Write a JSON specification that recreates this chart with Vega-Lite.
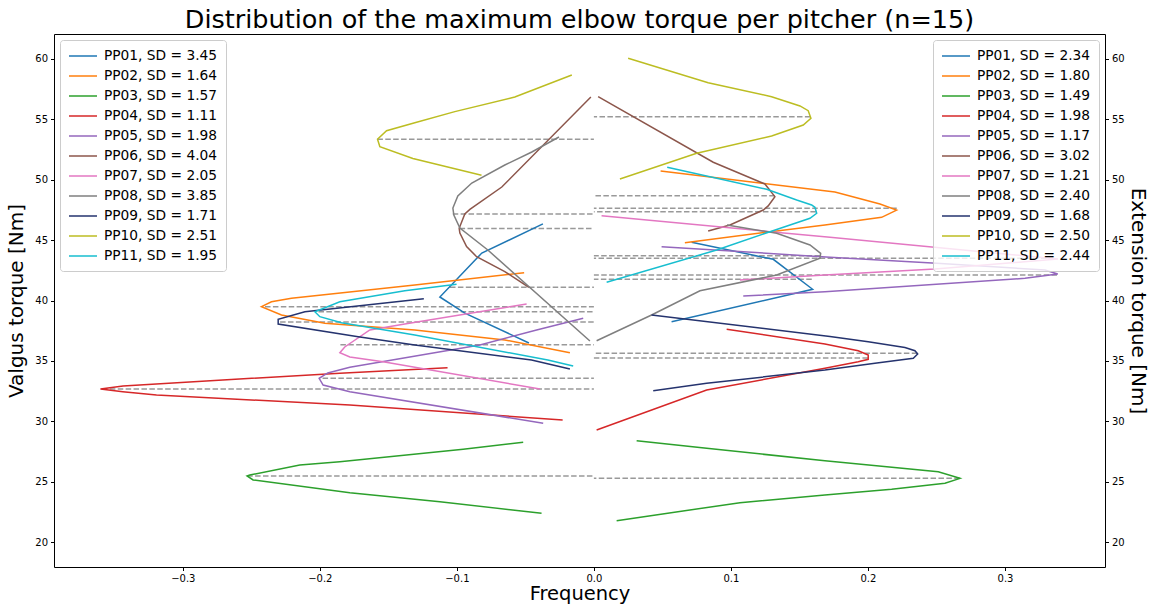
{
  "$schema": "https://vega.github.io/schema/vega-lite/v6.json",
  "autosize": "none",
  "padding": {"left": 54, "top": 34, "right": 49, "bottom": 40},
  "width": 1051,
  "height": 533,
  "background": "white",
  "title": {"text": "Distribution of the maximum elbow torque per pitcher (n=15)", "fontSize": 25.5, "fontWeight": "normal", "color": "black", "offset": 1},
  "config": {
    "font": "DejaVu Sans",
    "view": {"stroke": "black", "strokeWidth": 1},
    "axis": {"domain": false, "grid": false, "tickColor": "black", "tickSize": 3.5, "labelColor": "black", "labelFontSize": 10, "labelPadding": 3, "titleFontSize": 20, "titleFontWeight": "normal", "titleColor": "black"},
    "legend": {"fillColor": "rgba(255,255,255,0.8)", "strokeColor": "#cccccc", "cornerRadius": 3, "padding": 8, "labelFontSize": 13.75, "labelColor": "black", "symbolType": "M-1,0H3", "symbolSize": 196, "symbolStrokeWidth": 1.5, "labelOffset": 20, "rowPadding": 5, "labelLimit": 300, "offset": 6}
  },
  "datasets": {
    "curves": [
      {"side": "L", "label": "PP01, SD = 3.45", "x": -0.0372, "y": 46.34},
      {"side": "L", "label": "PP01, SD = 3.45", "x": -0.0818, "y": 43.93},
      {"side": "L", "label": "PP01, SD = 3.45", "x": -0.1124, "y": 40.29},
      {"side": "L", "label": "PP01, SD = 3.45", "x": -0.0942, "y": 38.96},
      {"side": "L", "label": "PP01, SD = 3.45", "x": -0.0474, "y": 36.48},
      {"side": "L", "label": "PP02, SD = 1.64", "x": -0.0509, "y": 42.30},
      {"side": "L", "label": "PP02, SD = 1.64", "x": -0.1307, "y": 41.29},
      {"side": "L", "label": "PP02, SD = 1.64", "x": -0.2207, "y": 40.18},
      {"side": "L", "label": "PP02, SD = 1.64", "x": -0.2353, "y": 39.90},
      {"side": "L", "label": "PP02, SD = 1.64", "x": -0.2426, "y": 39.49},
      {"side": "L", "label": "PP02, SD = 1.64", "x": -0.2280, "y": 38.80},
      {"side": "L", "label": "PP02, SD = 1.64", "x": -0.1964, "y": 38.11},
      {"side": "L", "label": "PP02, SD = 1.64", "x": -0.1307, "y": 37.56},
      {"side": "L", "label": "PP02, SD = 1.64", "x": -0.0650, "y": 36.73},
      {"side": "L", "label": "PP02, SD = 1.64", "x": -0.0175, "y": 35.68},
      {"side": "L", "label": "PP03, SD = 1.57", "x": -0.0516, "y": 28.26},
      {"side": "L", "label": "PP03, SD = 1.57", "x": -0.0954, "y": 27.68},
      {"side": "L", "label": "PP03, SD = 1.57", "x": -0.1854, "y": 26.65},
      {"side": "L", "label": "PP03, SD = 1.57", "x": -0.2146, "y": 26.38},
      {"side": "L", "label": "PP03, SD = 1.57", "x": -0.2511, "y": 25.55},
      {"side": "L", "label": "PP03, SD = 1.57", "x": -0.2531, "y": 25.47},
      {"side": "L", "label": "PP03, SD = 1.57", "x": -0.2487, "y": 25.14},
      {"side": "L", "label": "PP03, SD = 1.57", "x": -0.1781, "y": 24.08},
      {"side": "L", "label": "PP03, SD = 1.57", "x": -0.1124, "y": 23.34},
      {"side": "L", "label": "PP03, SD = 1.57", "x": -0.0382, "y": 22.38},
      {"side": "L", "label": "PP04, SD = 1.11", "x": -0.1068, "y": 34.44},
      {"side": "L", "label": "PP04, SD = 1.11", "x": -0.1854, "y": 33.97},
      {"side": "L", "label": "PP04, SD = 1.11", "x": -0.2708, "y": 33.42},
      {"side": "L", "label": "PP04, SD = 1.11", "x": -0.3436, "y": 32.92},
      {"side": "L", "label": "PP04, SD = 1.11", "x": -0.3601, "y": 32.67},
      {"side": "L", "label": "PP04, SD = 1.11", "x": -0.3438, "y": 32.45},
      {"side": "L", "label": "PP04, SD = 1.11", "x": -0.3192, "y": 32.17},
      {"side": "L", "label": "PP04, SD = 1.11", "x": -0.1781, "y": 31.35},
      {"side": "L", "label": "PP04, SD = 1.11", "x": -0.0228, "y": 30.10},
      {"side": "L", "label": "PP05, SD = 1.98", "x": -0.0078, "y": 38.53},
      {"side": "L", "label": "PP05, SD = 1.98", "x": -0.0418, "y": 37.56},
      {"side": "L", "label": "PP05, SD = 1.98", "x": -0.0832, "y": 36.31},
      {"side": "L", "label": "PP05, SD = 1.98", "x": -0.1781, "y": 34.47},
      {"side": "L", "label": "PP05, SD = 1.98", "x": -0.1942, "y": 34.00},
      {"side": "L", "label": "PP05, SD = 1.98", "x": -0.2005, "y": 33.56},
      {"side": "L", "label": "PP05, SD = 1.98", "x": -0.1976, "y": 33.00},
      {"side": "L", "label": "PP05, SD = 1.98", "x": -0.1781, "y": 32.45},
      {"side": "L", "label": "PP05, SD = 1.98", "x": -0.0370, "y": 29.83},
      {"side": "L", "label": "PP06, SD = 4.04", "x": -0.0022, "y": 56.85},
      {"side": "L", "label": "PP06, SD = 4.04", "x": -0.0672, "y": 49.40},
      {"side": "L", "label": "PP06, SD = 4.04", "x": -0.0905, "y": 47.55},
      {"side": "L", "label": "PP06, SD = 4.04", "x": -0.0942, "y": 47.16},
      {"side": "L", "label": "PP06, SD = 4.04", "x": -0.0983, "y": 45.98},
      {"side": "L", "label": "PP06, SD = 4.04", "x": -0.0978, "y": 45.59},
      {"side": "L", "label": "PP06, SD = 4.04", "x": -0.0929, "y": 44.46},
      {"side": "L", "label": "PP06, SD = 4.04", "x": -0.0856, "y": 43.63},
      {"side": "L", "label": "PP06, SD = 4.04", "x": -0.0650, "y": 42.39},
      {"side": "L", "label": "PP06, SD = 4.04", "x": -0.0474, "y": 41.09},
      {"side": "L", "label": "PP07, SD = 2.05", "x": -0.0491, "y": 39.71},
      {"side": "L", "label": "PP07, SD = 2.05", "x": -0.1380, "y": 38.05},
      {"side": "L", "label": "PP07, SD = 2.05", "x": -0.1635, "y": 37.56},
      {"side": "L", "label": "PP07, SD = 2.05", "x": -0.1818, "y": 36.15},
      {"side": "L", "label": "PP07, SD = 2.05", "x": -0.1854, "y": 35.68},
      {"side": "L", "label": "PP07, SD = 2.05", "x": -0.1781, "y": 35.32},
      {"side": "L", "label": "PP07, SD = 2.05", "x": -0.1538, "y": 34.93},
      {"side": "L", "label": "PP07, SD = 2.05", "x": -0.0394, "y": 32.67},
      {"side": "L", "label": "PP08, SD = 3.85", "x": -0.0255, "y": 53.54},
      {"side": "L", "label": "PP08, SD = 3.85", "x": -0.0453, "y": 52.30},
      {"side": "L", "label": "PP08, SD = 3.85", "x": -0.0650, "y": 51.22},
      {"side": "L", "label": "PP08, SD = 3.85", "x": -0.0891, "y": 49.73},
      {"side": "L", "label": "PP08, SD = 3.85", "x": -0.0993, "y": 48.65},
      {"side": "L", "label": "PP08, SD = 3.85", "x": -0.1029, "y": 47.66},
      {"side": "L", "label": "PP08, SD = 3.85", "x": -0.1022, "y": 47.08},
      {"side": "L", "label": "PP08, SD = 3.85", "x": -0.0978, "y": 46.00},
      {"side": "L", "label": "PP08, SD = 3.85", "x": -0.0774, "y": 44.18},
      {"side": "L", "label": "PP08, SD = 3.85", "x": -0.0029, "y": 36.65},
      {"side": "L", "label": "PP09, SD = 1.71", "x": -0.1241, "y": 40.15},
      {"side": "L", "label": "PP09, SD = 1.71", "x": -0.2109, "y": 39.07},
      {"side": "L", "label": "PP09, SD = 1.71", "x": -0.2304, "y": 38.44},
      {"side": "L", "label": "PP09, SD = 1.71", "x": -0.2304, "y": 38.05},
      {"side": "L", "label": "PP09, SD = 1.71", "x": -0.1720, "y": 37.00},
      {"side": "L", "label": "PP09, SD = 1.71", "x": -0.1307, "y": 36.31},
      {"side": "L", "label": "PP09, SD = 1.71", "x": -0.0455, "y": 35.07},
      {"side": "L", "label": "PP09, SD = 1.71", "x": -0.0175, "y": 34.33},
      {"side": "L", "label": "PP10, SD = 2.51", "x": -0.0161, "y": 58.67},
      {"side": "L", "label": "PP10, SD = 2.51", "x": -0.0577, "y": 56.85},
      {"side": "L", "label": "PP10, SD = 2.51", "x": -0.1015, "y": 55.64},
      {"side": "L", "label": "PP10, SD = 2.51", "x": -0.1307, "y": 54.72},
      {"side": "L", "label": "PP10, SD = 2.51", "x": -0.1513, "y": 54.06},
      {"side": "L", "label": "PP10, SD = 2.51", "x": -0.1579, "y": 53.35},
      {"side": "L", "label": "PP10, SD = 2.51", "x": -0.1562, "y": 52.74},
      {"side": "L", "label": "PP10, SD = 2.51", "x": -0.1321, "y": 51.76},
      {"side": "L", "label": "PP10, SD = 2.51", "x": -0.0820, "y": 50.37},
      {"side": "L", "label": "PP11, SD = 1.95", "x": -0.1002, "y": 41.34},
      {"side": "L", "label": "PP11, SD = 1.95", "x": -0.1380, "y": 40.81},
      {"side": "L", "label": "PP11, SD = 1.95", "x": -0.1854, "y": 39.90},
      {"side": "L", "label": "PP11, SD = 1.95", "x": -0.2036, "y": 39.07},
      {"side": "L", "label": "PP11, SD = 1.95", "x": -0.2000, "y": 38.66},
      {"side": "L", "label": "PP11, SD = 1.95", "x": -0.1842, "y": 38.16},
      {"side": "L", "label": "PP11, SD = 1.95", "x": -0.1307, "y": 37.14},
      {"side": "L", "label": "PP11, SD = 1.95", "x": -0.0336, "y": 35.07},
      {"side": "L", "label": "PP11, SD = 1.95", "x": -0.0151, "y": 34.57},
      {"side": "R", "label": "PP01, SD = 2.34", "x": 0.0713, "y": 44.82},
      {"side": "R", "label": "PP01, SD = 2.34", "x": 0.1309, "y": 43.41},
      {"side": "R", "label": "PP01, SD = 2.34", "x": 0.1596, "y": 40.93},
      {"side": "R", "label": "PP01, SD = 2.34", "x": 0.0567, "y": 38.24},
      {"side": "R", "label": "PP02, SD = 1.80", "x": 0.0487, "y": 50.72},
      {"side": "R", "label": "PP02, SD = 1.80", "x": 0.1759, "y": 48.99},
      {"side": "R", "label": "PP02, SD = 1.80", "x": 0.2088, "y": 47.99},
      {"side": "R", "label": "PP02, SD = 1.80", "x": 0.2209, "y": 47.49},
      {"side": "R", "label": "PP02, SD = 1.80", "x": 0.2100, "y": 46.89},
      {"side": "R", "label": "PP02, SD = 1.80", "x": 0.1686, "y": 46.25},
      {"side": "R", "label": "PP02, SD = 1.80", "x": 0.1261, "y": 45.65},
      {"side": "R", "label": "PP02, SD = 1.80", "x": 0.0664, "y": 44.79},
      {"side": "R", "label": "PP03, SD = 1.49", "x": 0.0312, "y": 28.39},
      {"side": "R", "label": "PP03, SD = 1.49", "x": 0.0823, "y": 27.76},
      {"side": "R", "label": "PP03, SD = 1.49", "x": 0.1686, "y": 26.73},
      {"side": "R", "label": "PP03, SD = 1.49", "x": 0.2513, "y": 25.82},
      {"side": "R", "label": "PP03, SD = 1.49", "x": 0.2672, "y": 25.27},
      {"side": "R", "label": "PP03, SD = 1.49", "x": 0.2562, "y": 24.86},
      {"side": "R", "label": "PP03, SD = 1.49", "x": 0.2173, "y": 24.36},
      {"side": "R", "label": "PP03, SD = 1.49", "x": 0.1686, "y": 23.89},
      {"side": "R", "label": "PP03, SD = 1.49", "x": 0.1066, "y": 23.26},
      {"side": "R", "label": "PP03, SD = 1.49", "x": 0.0166, "y": 21.76},
      {"side": "R", "label": "PP04, SD = 1.98", "x": 0.0969, "y": 37.62},
      {"side": "R", "label": "PP04, SD = 1.98", "x": 0.1686, "y": 36.40},
      {"side": "R", "label": "PP04, SD = 1.98", "x": 0.1929, "y": 35.84},
      {"side": "R", "label": "PP04, SD = 1.98", "x": 0.2002, "y": 35.49},
      {"side": "R", "label": "PP04, SD = 1.98", "x": 0.2002, "y": 35.13},
      {"side": "R", "label": "PP04, SD = 1.98", "x": 0.1929, "y": 34.93},
      {"side": "R", "label": "PP04, SD = 1.98", "x": 0.1686, "y": 34.39},
      {"side": "R", "label": "PP04, SD = 1.98", "x": 0.0823, "y": 32.59},
      {"side": "R", "label": "PP04, SD = 1.98", "x": 0.0020, "y": 29.27},
      {"side": "R", "label": "PP05, SD = 1.17", "x": 0.0494, "y": 44.46},
      {"side": "R", "label": "PP05, SD = 1.17", "x": 0.1723, "y": 43.58},
      {"side": "R", "label": "PP05, SD = 1.17", "x": 0.2501, "y": 43.08},
      {"side": "R", "label": "PP05, SD = 1.17", "x": 0.3292, "y": 42.53},
      {"side": "R", "label": "PP05, SD = 1.17", "x": 0.3385, "y": 42.19},
      {"side": "R", "label": "PP05, SD = 1.17", "x": 0.3146, "y": 41.84},
      {"side": "R", "label": "PP05, SD = 1.17", "x": 0.1686, "y": 40.73},
      {"side": "R", "label": "PP05, SD = 1.17", "x": 0.1090, "y": 40.37},
      {"side": "R", "label": "PP06, SD = 3.02", "x": 0.0031, "y": 56.88},
      {"side": "R", "label": "PP06, SD = 3.02", "x": 0.0871, "y": 51.45},
      {"side": "R", "label": "PP06, SD = 3.02", "x": 0.1248, "y": 49.65},
      {"side": "R", "label": "PP06, SD = 3.02", "x": 0.1321, "y": 48.60},
      {"side": "R", "label": "PP06, SD = 3.02", "x": 0.1272, "y": 47.83},
      {"side": "R", "label": "PP06, SD = 3.02", "x": 0.1236, "y": 47.49},
      {"side": "R", "label": "PP06, SD = 3.02", "x": 0.0993, "y": 46.25},
      {"side": "R", "label": "PP06, SD = 3.02", "x": 0.0834, "y": 45.76},
      {"side": "R", "label": "PP07, SD = 1.21", "x": 0.0056, "y": 47.02},
      {"side": "R", "label": "PP07, SD = 1.21", "x": 0.1723, "y": 45.23},
      {"side": "R", "label": "PP07, SD = 1.21", "x": 0.3387, "y": 43.44},
      {"side": "R", "label": "PP07, SD = 1.21", "x": 0.2489, "y": 42.61},
      {"side": "R", "label": "PP07, SD = 1.21", "x": 0.1686, "y": 42.11},
      {"side": "R", "label": "PP07, SD = 1.21", "x": 0.1066, "y": 41.70},
      {"side": "R", "label": "PP08, SD = 2.40", "x": 0.0971, "y": 46.25},
      {"side": "R", "label": "PP08, SD = 2.40", "x": 0.1334, "y": 45.57},
      {"side": "R", "label": "PP08, SD = 2.40", "x": 0.1577, "y": 44.60},
      {"side": "R", "label": "PP08, SD = 2.40", "x": 0.1655, "y": 43.91},
      {"side": "R", "label": "PP08, SD = 2.40", "x": 0.1650, "y": 43.50},
      {"side": "R", "label": "PP08, SD = 2.40", "x": 0.1334, "y": 42.11},
      {"side": "R", "label": "PP08, SD = 2.40", "x": 0.0774, "y": 40.81},
      {"side": "R", "label": "PP08, SD = 2.40", "x": 0.0421, "y": 38.80},
      {"side": "R", "label": "PP08, SD = 2.40", "x": 0.0020, "y": 36.67},
      {"side": "R", "label": "PP09, SD = 1.68", "x": 0.0421, "y": 38.80},
      {"side": "R", "label": "PP09, SD = 1.68", "x": 0.1723, "y": 37.02},
      {"side": "R", "label": "PP09, SD = 1.68", "x": 0.2002, "y": 36.59},
      {"side": "R", "label": "PP09, SD = 1.68", "x": 0.2270, "y": 36.11},
      {"side": "R", "label": "PP09, SD = 1.68", "x": 0.2343, "y": 35.84},
      {"side": "R", "label": "PP09, SD = 1.68", "x": 0.2363, "y": 35.57},
      {"side": "R", "label": "PP09, SD = 1.68", "x": 0.2331, "y": 35.21},
      {"side": "R", "label": "PP09, SD = 1.68", "x": 0.2051, "y": 34.80},
      {"side": "R", "label": "PP09, SD = 1.68", "x": 0.1686, "y": 34.24},
      {"side": "R", "label": "PP09, SD = 1.68", "x": 0.0823, "y": 33.14},
      {"side": "R", "label": "PP09, SD = 1.68", "x": 0.0433, "y": 32.53},
      {"side": "R", "label": "PP10, SD = 2.50", "x": 0.0250, "y": 60.06},
      {"side": "R", "label": "PP10, SD = 2.50", "x": 0.0834, "y": 58.04},
      {"side": "R", "label": "PP10, SD = 2.50", "x": 0.1297, "y": 56.88},
      {"side": "R", "label": "PP10, SD = 2.50", "x": 0.1504, "y": 56.11},
      {"side": "R", "label": "PP10, SD = 2.50", "x": 0.1564, "y": 55.72},
      {"side": "R", "label": "PP10, SD = 2.50", "x": 0.1584, "y": 55.09},
      {"side": "R", "label": "PP10, SD = 2.50", "x": 0.1528, "y": 54.53},
      {"side": "R", "label": "PP10, SD = 2.50", "x": 0.1297, "y": 53.62},
      {"side": "R", "label": "PP10, SD = 2.50", "x": 0.0750, "y": 52.19},
      {"side": "R", "label": "PP10, SD = 2.50", "x": 0.0190, "y": 50.06},
      {"side": "R", "label": "PP11, SD = 2.44", "x": 0.0535, "y": 51.03},
      {"side": "R", "label": "PP11, SD = 2.44", "x": 0.1261, "y": 49.21},
      {"side": "R", "label": "PP11, SD = 2.44", "x": 0.1480, "y": 48.32},
      {"side": "R", "label": "PP11, SD = 2.44", "x": 0.1589, "y": 47.91},
      {"side": "R", "label": "PP11, SD = 2.44", "x": 0.1613, "y": 47.72},
      {"side": "R", "label": "PP11, SD = 2.44", "x": 0.1626, "y": 47.22},
      {"side": "R", "label": "PP11, SD = 2.44", "x": 0.1577, "y": 46.81},
      {"side": "R", "label": "PP11, SD = 2.44", "x": 0.1285, "y": 45.70},
      {"side": "R", "label": "PP11, SD = 2.44", "x": 0.0896, "y": 44.18},
      {"side": "R", "label": "PP11, SD = 2.44", "x": 0.0093, "y": 41.51}
    ],
    "modes": [
      {"side": "L", "pp": "PP10", "x": -0.158, "y": 53.35},
      {"side": "L", "pp": "PP08", "x": -0.103, "y": 47.16},
      {"side": "L", "pp": "PP06", "x": -0.098, "y": 45.96},
      {"side": "L", "pp": "PP01", "x": -0.105, "y": 41.09},
      {"side": "L", "pp": "PP02", "x": -0.240, "y": 39.49},
      {"side": "L", "pp": "PP11", "x": -0.201, "y": 39.07},
      {"side": "L", "pp": "PP09", "x": -0.229, "y": 38.22},
      {"side": "L", "pp": "PP07", "x": -0.185, "y": 36.34},
      {"side": "L", "pp": "PP05", "x": -0.198, "y": 33.56},
      {"side": "L", "pp": "PP04", "x": -0.359, "y": 32.67},
      {"side": "L", "pp": "PP03", "x": -0.253, "y": 25.47},
      {"side": "R", "pp": "PP10", "x": 0.158, "y": 55.22},
      {"side": "R", "pp": "PP06", "x": 0.132, "y": 48.68},
      {"side": "R", "pp": "PP02", "x": 0.221, "y": 47.64},
      {"side": "R", "pp": "PP11", "x": 0.162, "y": 47.35},
      {"side": "R", "pp": "PP08", "x": 0.165, "y": 43.71},
      {"side": "R", "pp": "PP07", "x": 0.336, "y": 43.49},
      {"side": "R", "pp": "PP05", "x": 0.338, "y": 42.11},
      {"side": "R", "pp": "PP01", "x": 0.159, "y": 41.76},
      {"side": "R", "pp": "PP09", "x": 0.236, "y": 35.63},
      {"side": "R", "pp": "PP04", "x": 0.200, "y": 35.24},
      {"side": "R", "pp": "PP03", "x": 0.267, "y": 25.28}
    ]
  },
  "layer": [
    {
      "data": {"name": "modes"},
      "mark": {"type": "rule", "color": "#999999", "strokeWidth": 1.5, "strokeDash": [5.5, 2.4]},
      "encoding": {
        "x": {"field": "x", "type": "quantitative", "scale": {"domain": [-0.394, 0.373], "nice": false, "zero": false}},
        "x2": {"datum": 0},
        "y": {"field": "y", "type": "quantitative", "axis": null, "scale": {"domain": [17.93, 62.07], "nice": false, "zero": false}}
      }
    },
    {
      "data": {"name": "curves"},
      "transform": [{"filter": "datum.side === 'L'"}],
      "mark": {"type": "line", "strokeWidth": 1.5},
      "encoding": {
        "x": {"field": "x", "type": "quantitative", "scale": {"domain": [-0.394, 0.373], "nice": false, "zero": false},
              "axis": {"title": "Frequency", "values": [-0.3, -0.2, -0.1, 0, 0.1, 0.2, 0.3], "format": ".1f", "titlePadding": 1, "titleFontSize": 19.5}},
        "y": {"field": "y", "type": "quantitative", "scale": {"domain": [17.93, 62.07], "nice": false, "zero": false},
              "axis": {"orient": "left", "title": "Valgus torque [Nm]", "values": [20, 25, 30, 35, 40, 45, 50, 55, 60], "format": "d", "titlePadding": 8}},
        "color": {"field": "label", "type": "nominal",
          "scale": {"domain": ["PP01, SD = 3.45", "PP02, SD = 1.64", "PP03, SD = 1.57", "PP04, SD = 1.11", "PP05, SD = 1.98", "PP06, SD = 4.04", "PP07, SD = 2.05", "PP08, SD = 3.85", "PP09, SD = 1.71", "PP10, SD = 2.51", "PP11, SD = 1.95"],
                    "range": ["#1f77b4", "#ff7f0e", "#2ca02c", "#d62728", "#9467bd", "#8c564b", "#e377c2", "#7f7f7f", "#25336e", "#bcbd22", "#17becf"]},
          "legend": {"orient": "top-left", "title": null}},
        "order": {"field": "y", "type": "quantitative"}
      }
    },
    {
      "data": {"name": "curves"},
      "transform": [{"filter": "datum.side === 'R'"}],
      "mark": {"type": "line", "strokeWidth": 1.5},
      "encoding": {
        "x": {"field": "x", "type": "quantitative", "scale": {"domain": [-0.394, 0.373], "nice": false, "zero": false}},
        "y": {"field": "y", "type": "quantitative", "scale": {"domain": [17.93, 62.07], "nice": false, "zero": false},
              "axis": {"orient": "right", "title": "Extension torque [Nm]", "values": [20, 25, 30, 35, 40, 45, 50, 55, 60], "format": "d", "titlePadding": 3}},
        "color": {"field": "label", "type": "nominal",
          "scale": {"domain": ["PP01, SD = 2.34", "PP02, SD = 1.80", "PP03, SD = 1.49", "PP04, SD = 1.98", "PP05, SD = 1.17", "PP06, SD = 3.02", "PP07, SD = 1.21", "PP08, SD = 2.40", "PP09, SD = 1.68", "PP10, SD = 2.50", "PP11, SD = 2.44"],
                    "range": ["#1f77b4", "#ff7f0e", "#2ca02c", "#d62728", "#9467bd", "#8c564b", "#e377c2", "#7f7f7f", "#25336e", "#bcbd22", "#17becf"]},
          "legend": {"orient": "top-right", "title": null}},
        "order": {"field": "y", "type": "quantitative"}
      }
    },
    {
      "mark": {"type": "rule", "color": "black", "strokeWidth": 2},
      "encoding": {
        "x": {"datum": 0, "type": "quantitative"},
        "y": {"datum": 20, "type": "quantitative", "axis": null},
        "y2": {"datum": 60}
      }
    }
  ],
  "resolve": {"scale": {"color": "independent"}, "axis": {"y": "independent"}}
}
